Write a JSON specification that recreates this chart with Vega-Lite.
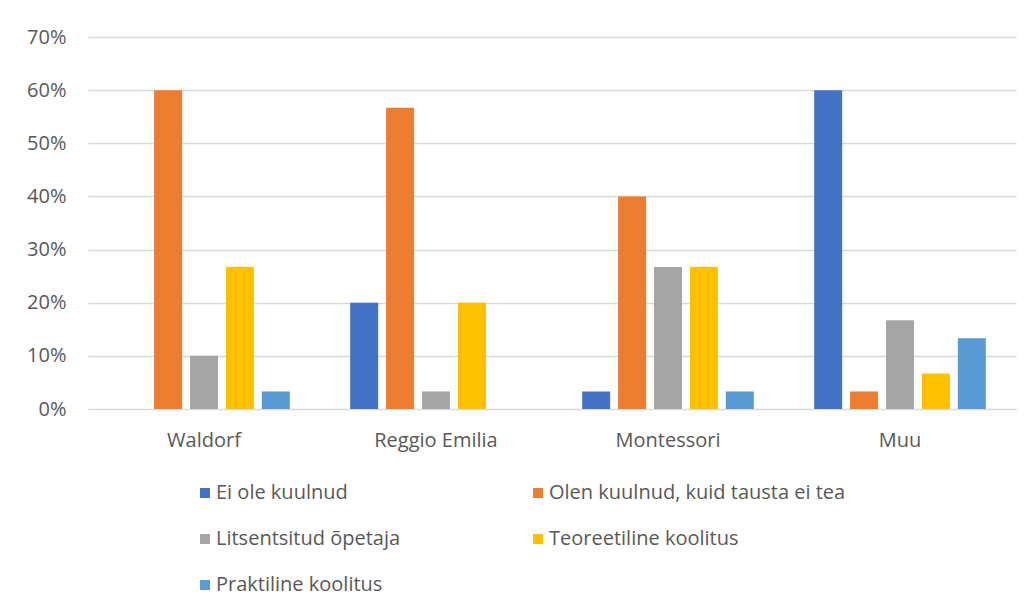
{
  "$schema": "https://vega.github.io/schema/vega-lite/v6.json",
  "width": 928,
  "height": 372,
  "autosize": {"type": "none"},
  "padding": {"left": 88, "top": 37, "right": 15, "bottom": 203},
  "background": "white",
  "data": {
    "values": [
      {"kat": "Waldorf", "seeria": "Ei ole kuulnud", "v": 0},
      {"kat": "Waldorf", "seeria": "Olen kuulnud, kuid tausta ei tea", "v": 0.6},
      {"kat": "Waldorf", "seeria": "Litsentsitud õpetaja", "v": 0.1},
      {"kat": "Waldorf", "seeria": "Teoreetiline koolitus", "v": 0.267},
      {"kat": "Waldorf", "seeria": "Praktiline koolitus", "v": 0.033},
      {"kat": "Reggio Emilia", "seeria": "Ei ole kuulnud", "v": 0.2},
      {"kat": "Reggio Emilia", "seeria": "Olen kuulnud, kuid tausta ei tea", "v": 0.567},
      {"kat": "Reggio Emilia", "seeria": "Litsentsitud õpetaja", "v": 0.033},
      {"kat": "Reggio Emilia", "seeria": "Teoreetiline koolitus", "v": 0.2},
      {"kat": "Reggio Emilia", "seeria": "Praktiline koolitus", "v": 0},
      {"kat": "Montessori", "seeria": "Ei ole kuulnud", "v": 0.033},
      {"kat": "Montessori", "seeria": "Olen kuulnud, kuid tausta ei tea", "v": 0.4},
      {"kat": "Montessori", "seeria": "Litsentsitud õpetaja", "v": 0.267},
      {"kat": "Montessori", "seeria": "Teoreetiline koolitus", "v": 0.267},
      {"kat": "Montessori", "seeria": "Praktiline koolitus", "v": 0.033},
      {"kat": "Muu", "seeria": "Ei ole kuulnud", "v": 0.6},
      {"kat": "Muu", "seeria": "Olen kuulnud, kuid tausta ei tea", "v": 0.033},
      {"kat": "Muu", "seeria": "Litsentsitud õpetaja", "v": 0.167},
      {"kat": "Muu", "seeria": "Teoreetiline koolitus", "v": 0.067},
      {"kat": "Muu", "seeria": "Praktiline koolitus", "v": 0.133}
    ]
  },
  "mark": {"type": "bar"},
  "encoding": {
    "x": {
      "field": "kat", "type": "nominal", "sort": null,
      "scale": {"paddingInner": 0.226, "paddingOuter": 0.113},
      "axis": {"title": null, "labelAngle": 0, "labelFontSize": 20, "labelColor": "#595959", "labelFont": "Open Sans", "domain": false, "ticks": false, "labelPadding": 21}
    },
    "xOffset": {
      "field": "seeria", "type": "nominal",
      "sort": ["Ei ole kuulnud", "Olen kuulnud, kuid tausta ei tea", "Litsentsitud õpetaja", "Teoreetiline koolitus", "Praktiline koolitus"],
      "scale": {"paddingInner": 0.22, "paddingOuter": 0.11}
    },
    "y": {
      "field": "v", "type": "quantitative",
      "scale": {"domain": [0, 0.7], "nice": false},
      "axis": {"title": null, "format": ".0%", "values": [0, 0.1, 0.2, 0.3, 0.4, 0.5, 0.6, 0.7], "labelOverlap": false, "labelFontSize": 20, "labelColor": "#595959", "labelFont": "Open Sans", "domain": false, "ticks": false, "labelPadding": 22, "gridColor": "#D9D9D9", "gridWidth": 1.5}
    },
    "color": {
      "field": "seeria", "type": "nominal",
      "sort": ["Ei ole kuulnud", "Olen kuulnud, kuid tausta ei tea", "Litsentsitud õpetaja", "Teoreetiline koolitus", "Praktiline koolitus"],
      "scale": {"range": ["#4472C4", "#ED7D31", "#A5A5A5", "#FFC000", "#5B9BD5"]},
      "legend": {
        "title": null, "orient": "none", "legendX": 107, "legendY": 446,
        "direction": "horizontal", "columns": 2,
        "symbolType": "square", "symbolSize": 100, "symbolStrokeWidth": 0,
        "labelFontSize": 20, "labelFont": "Open Sans", "labelColor": "#595959",
        "labelOffset": 1, "rowPadding": 26, "columnPadding": 127, "labelLimit": 400
      }
    }
  },
  "config": {"view": {"stroke": null}}
}
